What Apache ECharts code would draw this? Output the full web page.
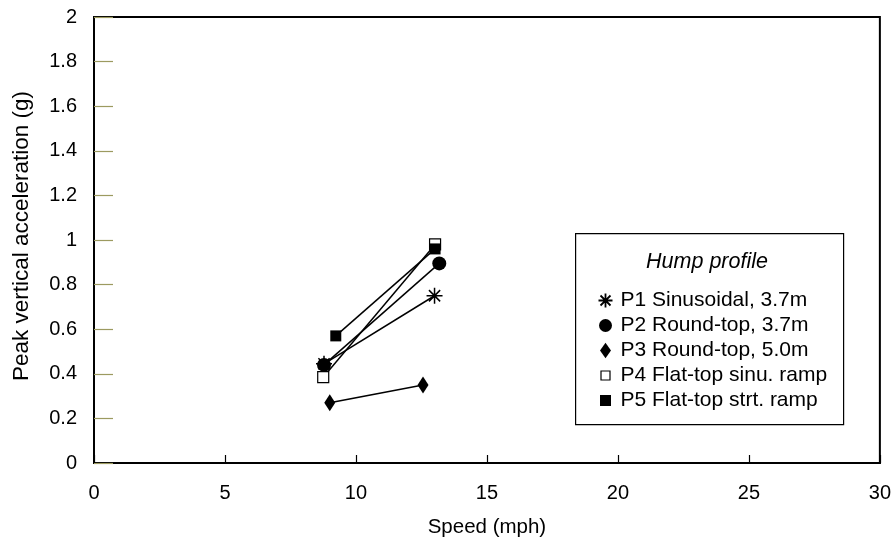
<!DOCTYPE html>
<html>
<head>
<meta charset="utf-8">
<script src="https://cdn.jsdelivr.net/npm/echarts@6/dist/echarts.min.js"></script>
<style>
  html, body { margin: 0; padding: 0; background: #fff; }
  #chart { width: 894px; height: 543px; }
</style>
</head>
<body>
<div id="chart"></div>
<script>
// Peak vertical acceleration against speed for five hump profiles
const seriesNames = [
  'P1 Sinusoidal, 3.7m',
  'P2 Round-top, 3.7m',
  'P3 Round-top, 5.0m',
  'P4 Flat-top sinu. ramp',
  'P5 Flat-top strt. ramp'
];
// [speed (mph), peak acceleration (g)]
const p1 = [[8.78, 0.445], [13.0, 0.75]];
const p2 = [[8.78, 0.44], [13.18, 0.895]];
const p3 = [[9.0, 0.27], [12.56, 0.35]];
const p4 = [[8.75, 0.385], [13.02, 0.98]];
const p5 = [[9.23, 0.57], [13.02, 0.96]];
const xTicks = [0, 5, 10, 15, 20, 25, 30];
const yTicks = [0, 0.2, 0.4, 0.6, 0.8, 1, 1.2, 1.4, 1.6, 1.8, 2];

const FONT = '"Liberation Sans", Arial, sans-serif';
const ASTERISK = 'path://M0,5L10,5M5,0L5,10M1.5,1.5L8.5,8.5M8.5,1.5L1.5,8.5';

// Legend icons: the leading move-to points pad each glyph inside a 16x16 box
const LEG_ASTERISK = 'path://M0,0M16,16M1,8L15,8M8,1L8,15M3,3L13,13M13,3L3,13';
const LEG_CIRCLE = 'path://M0,0M16,16M14.5,8A6.5,6.5,0,1,1,1.5,8A6.5,6.5,0,1,1,14.5,8Z';
const LEG_DIAMOND = 'path://M0,0M16,16M8,0.2L13.5,8L8,15.8L2.5,8Z';
const LEG_OPEN = 'path://M0,0M16,16M3.5,3.5L12.5,3.5L12.5,12.5L3.5,12.5Z';
const LEG_FILLED = 'path://M0,0M16,16M2.5,2.5L13.5,2.5L13.5,13.5L2.5,13.5Z';

const markers = [
  { symbol: ASTERISK, leg: LEG_ASTERISK, size: 16, fill: 'none', border: '#000', bw: 1.5, legBw: 1.8 },
  { symbol: 'circle', leg: LEG_CIRCLE, size: 14, fill: '#000', border: '#000', bw: 0, legBw: 0 },
  { symbol: 'diamond', leg: LEG_DIAMOND, size: [11, 17], fill: '#000', border: '#000', bw: 0, legBw: 0 },
  { symbol: 'rect', leg: LEG_OPEN, size: 11, fill: '#fff', border: '#000', bw: 1.2, legBw: 1.2 },
  { symbol: 'rect', leg: LEG_FILLED, size: 11, fill: '#000', border: '#000', bw: 0, legBw: 0 }
];
const data = [p1, p2, p3, p4, p5];

const chart = echarts.init(document.getElementById('chart'), null, { renderer: 'canvas' });

chart.setOption({
  animation: false,
  backgroundColor: '#fff',
  textStyle: { fontFamily: FONT },
  grid: { left: 94, top: 17, right: 11, bottom: 78, show: true, borderColor: '#000', borderWidth: 2 },
  xAxis: {
    type: 'value', min: xTicks[0], max: xTicks[xTicks.length - 1], interval: 5,
    name: 'Speed (mph)', nameLocation: 'middle', nameGap: 54,
    nameTextStyle: { fontSize: 20.5, color: '#000', fontFamily: FONT },
    axisLine: { show: true, lineStyle: { color: '#000', width: 2 } },
    axisTick: { show: true, inside: true, length: 8, lineStyle: { color: '#000', width: 1.2 } },
    axisLabel: { fontSize: 20, color: '#000', margin: 20, fontFamily: FONT },
    splitLine: { show: false }
  },
  yAxis: {
    type: 'value', min: yTicks[0], max: yTicks[yTicks.length - 1], interval: 0.2,
    name: 'Peak vertical acceleration (g)', nameLocation: 'middle', nameGap: 61,
    nameTextStyle: { fontSize: 22.5, color: '#000', fontFamily: FONT, padding: [0, 0, 0, 8] },
    axisLine: { show: true, lineStyle: { color: '#000', width: 2 } },
    axisTick: { show: true, inside: true, length: 19, lineStyle: { color: '#9c9a60', width: 1.2 } },
    axisLabel: { fontSize: 20, color: '#000', margin: 17, fontFamily: FONT,
      formatter: v => String(Math.round(v * 10) / 10) },
    splitLine: { show: false }
  },
  legend: {
    orient: 'vertical', left: 590, top: 285, itemGap: 4,
    itemWidth: 16, itemHeight: 16,
    textStyle: { fontSize: 21, color: '#000', fontFamily: FONT, padding: [0, 0, 0, 2] },
    data: seriesNames.map((n, i) => ({
      name: n,
      icon: markers[i].leg,
      itemStyle: { color: markers[i].fill, borderColor: markers[i].border, borderWidth: markers[i].legBw }
    }))
  },
  graphic: [
    { type: 'rect', left: 575, top: 233, shape: { width: 268, height: 191 },
      style: { fill: '#fff', stroke: '#000', lineWidth: 1.2 }, z: -1 },
    { type: 'text', x: 707, y: 262,
      style: { text: 'Hump profile', font: 'italic 21.5px ' + FONT, fill: '#000',
        textAlign: 'center', textVerticalAlign: 'middle' } }
  ],
  series: seriesNames.map((n, i) => ({
    name: n,
    type: 'line',
    data: data[i],
    symbol: markers[i].symbol,
    symbolSize: markers[i].size,
    showAllSymbol: true,
    lineStyle: { color: '#000', width: 1.5 },
    itemStyle: { color: markers[i].fill, borderColor: markers[i].border, borderWidth: markers[i].bw },
    emphasis: { disabled: true },
    z: 2 + i
  }))
});
</script>
</body>
</html>
